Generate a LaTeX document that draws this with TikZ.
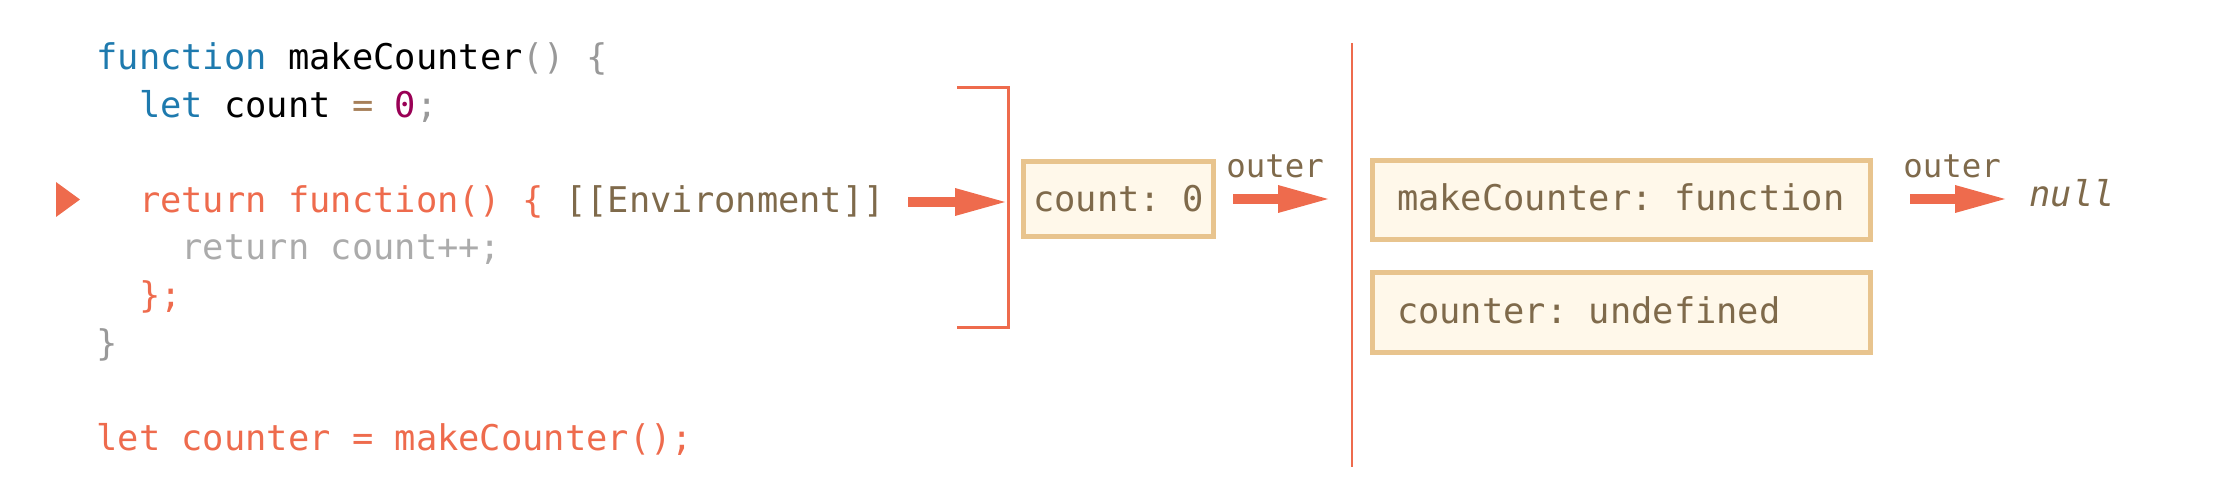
\documentclass[tikz,border=0pt]{standalone}
\usepackage{fontspec}
\usetikzlibrary{arrows.meta}
\newfontfamily\codefont{DejaVu Sans Mono}
\definecolor{kw}{HTML}{1E7AAE}
\definecolor{pu}{HTML}{999999}
\definecolor{op}{HTML}{A67F59}
\definecolor{num}{HTML}{990055}
\definecolor{hl}{HTML}{EE6B4D}
\definecolor{brn}{HTML}{7F6A4B}
\definecolor{dim}{HTML}{ABABAB}
\definecolor{bfill}{HTML}{FFF8EA}
\definecolor{bdraw}{HTML}{E8C48E}
\newcommand\ckw[1]{\textcolor{kw}{#1}}
\newcommand\cpu[1]{\textcolor{pu}{#1}}
\newcommand\leftbox[1]{\makebox[224.5pt][l]{#1}}
\frenchspacing
\begin{document}
\begin{tikzpicture}[x=0.5pt,y=-0.5pt,
  codeline/.style={anchor=base west,inner sep=0pt,font=\codefont\fontsize{17.7pt}{20pt}\selectfont},
  envbox/.style={draw=bdraw,fill=bfill,line width=2.5pt,inner ysep=0pt,
    text=brn,font=\codefont\fontsize{17.7pt}{20pt}\selectfont},
  lbl/.style={anchor=base west,inner sep=0pt,text=brn,font=\codefont\fontsize{16.2pt}{18pt}\selectfont},
  bigarrow/.style={draw=hl,line width=5pt,-{Triangle[length=25pt,width=14pt,line width=0pt]}},
  hlline/.style={draw=hl}]
\useasboundingbox (0,0) rectangle (2216,486);
% code
\node[codeline] (l1) at (96,70) {\ckw{function} makeCounter\cpu{() \{}};
\node[codeline] (l2) at (138.6,117.5) {\ckw{let} count \textcolor{op}{=} \textcolor{num}{0}\cpu{;}};
\node[codeline,text=hl] (l3) at (138.6,212.5) {return function() \{ \textcolor{brn}{[[Environment]]}};
\node[codeline,text=dim] (l4) at (181.2,260) {return count++;};
\node[codeline,text=hl] (l5) at (138.6,307.5) {\};};
\node[codeline,text=pu] (l6) at (96,355) {\}};
\node[codeline,text=hl] (l7) at (96,450) {let counter = makeCounter();};
% current line marker
\fill[hl] (56,182) -- (80,199.5) -- (56,217) -- cycle;
% bracket
\draw[hlline,line width=1.5pt] (957,88) -| (1008,327) -- (957,327);
\coordinate (a1s) at (908,202);
\coordinate (a1e) at (1005,202);
\draw[bigarrow] (a1s) -- (a1e);
% inner lexical environment
\node[envbox,minimum width=95pt,minimum height=37.5pt,inner xsep=0pt,
  text height=15pt,text depth=2pt] (cbox) at (1118.5,199) {count: 0};
\node[lbl] (o1) at (1226,178) {outer};
\coordinate (a2s) at (1233,199);
\coordinate (a2e) at (1328,199);
\draw[bigarrow] (a2s) -- (a2e);
% separator
\coordinate (vt) at (1352,43);
\coordinate (vb) at (1352,467);
\draw[hlline,line width=1pt] (vt) -- (vb);
% outer lexical environment
\node[envbox,minimum height=39.5pt,inner xsep=12.25pt,
  text height=13pt,text depth=2pt] (b1) at (1621.5,200) {\leftbox{makeCounter: function}};
\node[envbox,minimum height=39.5pt,inner xsep=12.25pt,
  text height=13pt,text depth=2.5pt] (b2) at (1621.5,312.5) {\leftbox{counter: undefined}};
\node[lbl] (o2) at (1903,178) {outer};
\coordinate (a3s) at (1910,199);
\coordinate (a3e) at (2005,199);
\draw[bigarrow] (a3s) -- (a3e);
\node[codeline,text=brn,font=\codefont\itshape\fontsize{17.7pt}{20pt}\selectfont] (nul) at (2029,207) {null};
\end{tikzpicture}
\end{document}
